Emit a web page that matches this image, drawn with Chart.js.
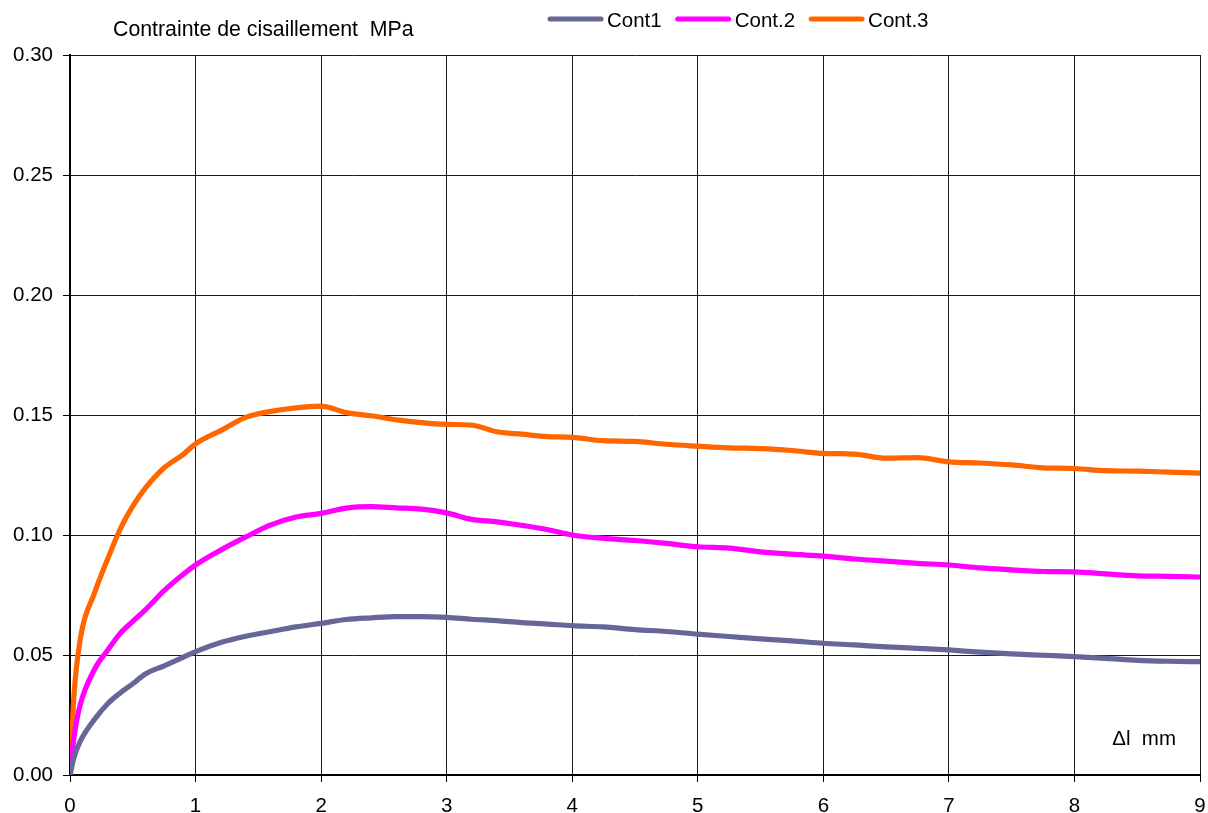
<!DOCTYPE html>
<html>
<head>
<meta charset="utf-8">
<script src="https://cdn.jsdelivr.net/npm/chart.js@4"></script>
<style>
  html, body { margin: 0; padding: 0; background: #ffffff; }
  #wrap { width: 1208px; height: 813px; }
</style>
</head>
<body>
<div id="wrap"><canvas id="chart" width="1208" height="813"></canvas></div>
<script>
// Displacement Δl (mm) at which each contrainte series is sampled
const deltaL = [0, 0.03, 0.08, 0.2, 0.3, 0.4, 0.5, 0.6, 0.75, 0.9, 1.0, 1.2, 1.4, 1.6, 1.8, 2.0,
  2.2, 2.4, 2.6, 2.8, 3.0, 3.2, 3.4, 3.6, 3.8, 4.0, 4.25, 4.5, 4.75, 5.0, 5.25, 5.5, 5.75,
  6.0, 6.25, 6.5, 6.75, 7.0, 7.25, 7.5, 7.75, 8.0, 8.25, 8.5, 8.75, 9.0];

// Shear stress (MPa)
const cont1 = [0, 0.007, 0.0139, 0.0235, 0.0297, 0.0342, 0.038, 0.0421, 0.0455, 0.049, 0.0514,
  0.0552, 0.0578, 0.0598, 0.0617, 0.0632, 0.0648, 0.0655, 0.066, 0.066, 0.0657, 0.0649, 0.0643,
  0.0635, 0.0629, 0.0622, 0.0617, 0.0606, 0.0598, 0.0587, 0.0577, 0.0567, 0.0559, 0.0549, 0.0542,
  0.0534, 0.0528, 0.0521, 0.0512, 0.0505, 0.0499, 0.0493, 0.0486, 0.0478, 0.0474, 0.0472];

const cont2 = [0, 0.015, 0.029, 0.0445, 0.052, 0.059, 0.064, 0.0688, 0.0768, 0.0835, 0.0875,
  0.0937, 0.0992, 0.1042, 0.1075, 0.109, 0.1112, 0.1118, 0.1113, 0.1108, 0.1092, 0.1065, 0.1055,
  0.104, 0.1023, 0.100, 0.0986, 0.0977, 0.0965, 0.0951, 0.0945, 0.093, 0.092, 0.0912, 0.090,
  0.0891, 0.0882, 0.0875, 0.0863, 0.0855, 0.0848, 0.0846, 0.0838, 0.083, 0.0828, 0.0825];

const cont3 = [0, 0.032, 0.056, 0.0765, 0.090, 0.1025, 0.112, 0.1195, 0.128, 0.1335, 0.138,
  0.1435, 0.149, 0.1515, 0.153, 0.1537, 0.151, 0.1497, 0.148, 0.1468, 0.1461, 0.1458, 0.143,
  0.142, 0.141, 0.1407, 0.1393, 0.139, 0.1378, 0.137, 0.1363, 0.136, 0.1352, 0.134, 0.1337,
  0.132, 0.1322, 0.1305, 0.130, 0.1292, 0.128, 0.1277, 0.1268, 0.1266, 0.1262, 0.1258];

const seriesNames = ['Cont1', 'Cont.2', 'Cont.3'];
const seriesColors = ['#666699', '#FF00FF', '#FF6600'];
const yAxisTitle = 'Contrainte de cisaillement  MPa';
const xAxisTitle = '\u0394l  mm';

const FONT_FAMILY = '"Liberation Sans", Arial, Helvetica, sans-serif';
const FONT_SIZE = 20.5;
const TITLE_SIZE = 21.3;

function toPoints(values) {
  return deltaL.map((x, i) => ({ x: x, y: values[i] }));
}

const datasets = [cont1, cont2, cont3].map((vals, i) => ({
  label: seriesNames[i],
  data: toPoints(vals),
  borderColor: seriesColors[i],
  backgroundColor: seriesColors[i],
  borderWidth: 5.2,
  pointRadius: 0,
  fill: false,
  cubicInterpolationMode: 'monotone'
}));

// Title text, legend and the Δl label drawn on top of the chart
const annotations = {
  id: 'annotations',
  afterDraw(chart) {
    const ctx = chart.ctx;
    ctx.save();
    ctx.fillStyle = '#000';
    ctx.textBaseline = 'alphabetic';
    ctx.textAlign = 'left';
    ctx.font = TITLE_SIZE + 'px ' + FONT_FAMILY;
    ctx.fillText(yAxisTitle, 113, 36);

    // legend row
    ctx.font = FONT_SIZE + 'px ' + FONT_FAMILY;
    let x = 548;
    const lineLen = 55;
    chart.data.datasets.forEach(ds => {
      ctx.strokeStyle = ds.borderColor;
      ctx.lineWidth = 5;
      ctx.lineCap = 'round';
      ctx.beginPath();
      ctx.moveTo(x + 2, 19);
      ctx.lineTo(x + lineLen - 2, 19);
      ctx.stroke();
      x += lineLen + 4;
      ctx.fillStyle = '#000';
      ctx.fillText(ds.label, x, 27);
      x += ctx.measureText(ds.label).width + 14;
    });

    ctx.textAlign = 'right';
    ctx.fillText(xAxisTitle, 1176, 745);
    ctx.restore();
  }
};

new Chart(document.getElementById('chart'), {
  type: 'line',
  data: { datasets: datasets },
  options: {
    responsive: false,
    animation: false,
    events: [],
    layout: { padding: { top: 55, right: 8, left: 0, bottom: 0 } },
    plugins: {
      legend: { display: false },
      title: { display: false },
      tooltip: { enabled: false }
    },
    scales: {
      x: {
        type: 'linear',
        min: 0,
        max: 9,
        afterFit: s => { s.height = 38; s.paddingLeft = 0; s.paddingRight = 0; },
        ticks: {
          stepSize: 1,
          padding: 12,
          color: '#000',
          font: { family: FONT_FAMILY, size: FONT_SIZE },
          maxRotation: 0,
          callback: v => String(v)
        },
        grid: { color: '#1a1a1a', lineWidth: 1, tickLength: 7, tickColor: '#000' },
        border: { color: '#000', width: 2 }
      },
      y: {
        type: 'linear',
        min: 0,
        max: 0.3,
        afterFit: s => { s.width = 70; s.paddingTop = 0; s.paddingBottom = 0; },
        ticks: {
          stepSize: 0.05,
          padding: 10,
          color: '#000',
          font: { family: FONT_FAMILY, size: FONT_SIZE },
          callback: v => Number(v).toFixed(2)
        },
        grid: { color: '#1a1a1a', lineWidth: 1, tickLength: 7, tickColor: '#000' },
        border: { color: '#000', width: 2 }
      }
    }
  },
  plugins: [annotations]
});
</script>
</body>
</html>
